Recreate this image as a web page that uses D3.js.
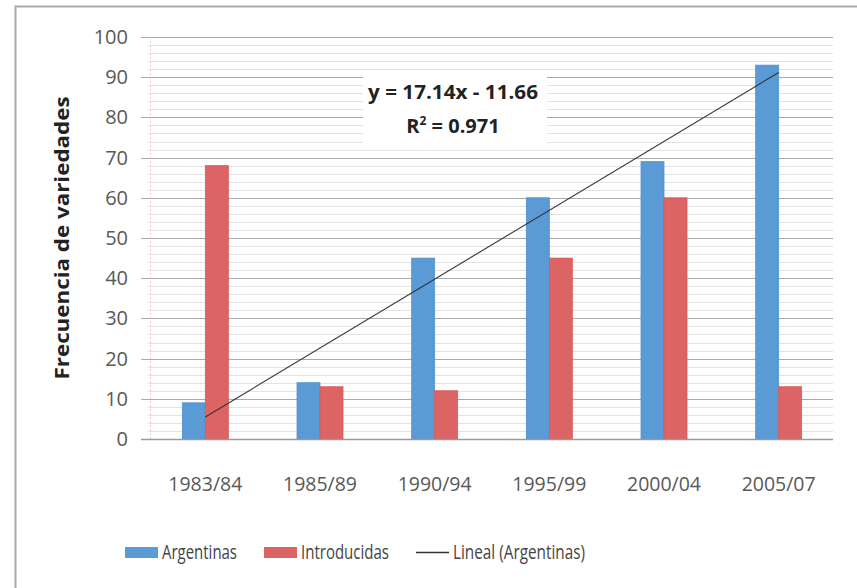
<!DOCTYPE html>
<html>
<head>
<meta charset="utf-8">
<script src="https://cdn.jsdelivr.net/npm/d3@7"></script>
<style>
  body { margin: 0; background: #fff; }
  svg { display: block; font-family: "Open Sans", sans-serif; }
</style>
</head>
<body>
<svg width="857" height="588"></svg>
<script>
// data
var categories = ["1983/84", "1985/89", "1990/94", "1995/99", "2000/04", "2005/07"];
var argentinas = [9, 14, 45, 60, 69, 93];
var introducidas = [68, 13, 12, 45, 60, 13];
var yTicks = [0, 10, 20, 30, 40, 50, 60, 70, 80, 90, 100];
var trendSlope = 17.14;
var trendIntercept = -11.66;
var equationText = "y = 17.14x - 11.66";
var r2Text = "0.971";

var svg = d3.select("svg");

// frame (only top and left edges visible)
svg.append("rect")
  .attr("x", 15.5).attr("y", 6.5)
  .attr("width", 900).attr("height", 700)
  .attr("fill", "none")
  .attr("stroke", "#a4acb2")
  .attr("stroke-width", 2);

// scales
var plotLeft = 148, plotRight = 836, plotTop = 37, plotBottom = 439;
var x = d3.scaleBand().domain(categories).range([plotLeft, plotRight]);
var y = d3.scaleLinear().domain([0, 100]).range([plotBottom, plotTop]);
var barW = 23;

// minor gridlines
var minor = d3.range(2, 100, 2).filter(function(v) { return v % 10 !== 0; });
svg.append("g").selectAll("line").data(minor).join("line")
  .attr("x1", plotLeft).attr("x2", plotRight - 3)
  .attr("y1", function(d) { return Math.round(y(d)) + 0.5; })
  .attr("y2", function(d) { return Math.round(y(d)) + 0.5; })
  .attr("stroke", "#e2e2e6").attr("stroke-width", 1);

// major gridlines
svg.append("g").selectAll("line").data(yTicks.slice(1)).join("line")
  .attr("x1", plotLeft - 7).attr("x2", plotRight - 3)
  .attr("y1", function(d) { return Math.round(y(d)) + 0.5; })
  .attr("y2", function(d) { return Math.round(y(d)) + 0.5; })
  .attr("stroke", "#a9a9ad").attr("stroke-width", 1.2);

// left axis (faint dotted) and y tick labels
svg.append("line")
  .attr("x1", plotLeft + 2.5).attr("x2", plotLeft + 2.5)
  .attr("y1", plotTop).attr("y2", plotBottom)
  .attr("stroke", "#e8c8d0").attr("stroke-dasharray", "2,2");

svg.append("g").selectAll("text").data(yTicks).join("text")
  .attr("x", 128)
  .attr("y", function(d) { return y(d) + 7; })
  .attr("text-anchor", "end")
  .attr("font-size", 20)
  .attr("fill", "#595959")
  .text(function(d) { return d; });

// bars
var groups = svg.append("g").selectAll("g").data(categories).join("g");
groups.append("rect")
  .attr("x", function(d) { return x(d) + x.bandwidth() / 2 - barW; })
  .attr("y", function(d, i) { return y(argentinas[i]); })
  .attr("width", barW)
  .attr("height", function(d, i) { return y(0) - y(argentinas[i]); })
  .attr("fill", "#5b9bd5").attr("stroke", "#4f8fd0").attr("stroke-width", 0.8);
groups.append("rect")
  .attr("x", function(d) { return x(d) + x.bandwidth() / 2; })
  .attr("y", function(d, i) { return y(introducidas[i]); })
  .attr("width", barW)
  .attr("height", function(d, i) { return y(0) - y(introducidas[i]); })
  .attr("fill", "#dd6464").attr("stroke", "#d85858").attr("stroke-width", 0.8);

// bottom axis
svg.append("line")
  .attr("x1", plotLeft - 7).attr("x2", plotRight - 3)
  .attr("y1", plotBottom + 0.5).attr("y2", plotBottom + 0.5)
  .attr("stroke", "#9a9a9a").attr("stroke-width", 1.3);

svg.append("g").selectAll("text").data(categories).join("text")
  .attr("x", function(d) { return x(d) + x.bandwidth() / 2; })
  .attr("y", 491)
  .attr("text-anchor", "middle")
  .attr("font-size", 20)
  .attr("fill", "#595959")
  .attr("textLength", 74).attr("lengthAdjust", "spacingAndGlyphs")
  .text(function(d) { return d; });

// trendline
var trend = categories.map(function(c, i) { return { c: c, v: trendSlope * (i + 1) + trendIntercept }; });
svg.append("path")
  .datum([trend[0], trend[trend.length - 1]])
  .attr("fill", "none")
  .attr("stroke", "#333")
  .attr("stroke-width", 1.1)
  .attr("d", d3.line()
    .x(function(d) { return x(d.c) + x.bandwidth() / 2; })
    .y(function(d) { return y(d.v); }));

// equation label box
svg.append("rect")
  .attr("x", 363).attr("y", 73).attr("width", 184).attr("height", 70)
  .attr("fill", "#fff");
svg.append("text")
  .attr("x", 453).attr("y", 99)
  .attr("text-anchor", "middle")
  .attr("font-size", 20).attr("font-weight", "bold").attr("fill", "#222")
  .attr("textLength", 170).attr("lengthAdjust", "spacingAndGlyphs")
  .text(equationText);
var r2 = svg.append("text")
  .attr("x", 453).attr("y", 133)
  .attr("text-anchor", "middle")
  .attr("font-size", 20).attr("font-weight", "bold").attr("fill", "#222");
r2.append("tspan").text("R");
r2.append("tspan").attr("font-size", 12).attr("dy", -8).text("2");
r2.append("tspan").attr("dy", 8).text(" = " + r2Text);

// y axis title
svg.append("text")
  .attr("transform", "translate(69,238) rotate(-90)")
  .attr("text-anchor", "middle")
  .attr("font-size", 19).attr("font-weight", "bold").attr("fill", "#222")
  .attr("textLength", 283).attr("lengthAdjust", "spacingAndGlyphs")
  .text("Frecuencia de variedades");

// legend
var legendItems = [
  { name: "Argentinas", kind: "rect", color: "#5b9bd5", x: 125, tw: 75 },
  { name: "Introducidas", kind: "rect", color: "#dd6464", x: 264, tw: 88 },
  { name: "Lineal (Argentinas)", kind: "line", color: "#333", x: 416, tw: 132 }
];
var leg = svg.append("g").selectAll("g").data(legendItems).join("g")
  .attr("transform", function(d) { return "translate(" + d.x + ",0)"; });
leg.filter(function(d) { return d.kind === "rect"; }).append("rect")
  .attr("x", 0).attr("y", 547).attr("width", 33).attr("height", 11)
  .attr("fill", function(d) { return d.color; });
leg.filter(function(d) { return d.kind === "line"; }).append("line")
  .attr("x1", 0).attr("x2", 33).attr("y1", 552.5).attr("y2", 552.5)
  .attr("stroke", function(d) { return d.color; }).attr("stroke-width", 1.5);
leg.append("text")
  .attr("x", 37).attr("y", 559)
  .attr("font-size", 20).attr("fill", "#444")
  .attr("textLength", function(d) { return d.tw; }).attr("lengthAdjust", "spacingAndGlyphs")
  .text(function(d) { return d.name; });
</script>
</body>
</html>
